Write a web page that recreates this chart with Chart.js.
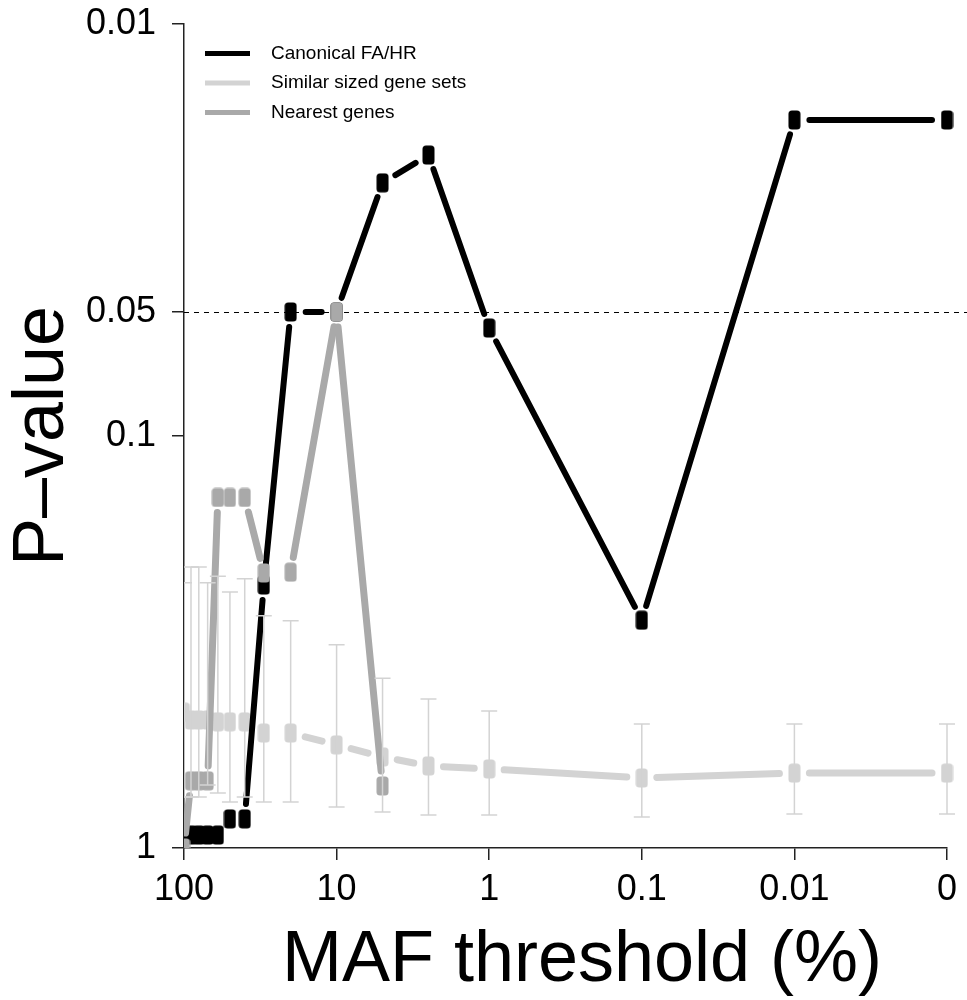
<!DOCTYPE html>
<html>
<head>
<meta charset="utf-8">
<script src="https://cdn.jsdelivr.net/npm/chart.js@4.4.0/dist/chart.umd.min.js"></script>
<style>
  body { margin: 0; background: #fff; }
</style>
</head>
<body>
<canvas id="myChart" width="967" height="1000"></canvas>
<script>
// MAF thresholds (%) - "0" sits one decade after 0.01 on the log axis
const mafLabels = ["100", "90", "80", "70", "60", "50", "40", "30", "20", "10", "5", "2.5", "1", "0.1", "0.01", "0"];
const mafPos = [100, 90, 80, 70, 60, 50, 40, 30, 20, 10, 5, 2.5, 1, 0.1, 0.01, 0.001];

// P-values
const canonical = [0.93, 0.93, 0.93, 0.93, 0.93, 0.85, 0.85, 0.23, 0.05, 0.05, 0.0243, 0.0208, 0.0547, 0.28, 0.0171, 0.0171];
const similar = [0.468, 0.489, 0.489, 0.489, 0.494, 0.494, 0.494, 0.526, 0.526, 0.562, 0.601, 0.632, 0.643, 0.676, 0.658, 0.658];
const similarLow = [0.227, 0.208, 0.208, 0.227, 0.219, 0.239, 0.222, 0.273, 0.281, 0.321, 0.387, 0.435, 0.465, 0.5, 0.5, 0.5];
const similarHigh = [0.752, 0.752, 0.752, 0.703, 0.735, 0.773, 0.752, 0.773, 0.773, 0.795, 0.818, 0.832, 0.832, 0.841, 0.827, 0.827];
const nearest = [1.0, 0.687, 0.687, 0.687, 0.141, 0.141, 0.141, 0.215, 0.214, 0.05, 0.707];

// axis ticks
const xTicks = [100, 10, 1, 0.1, 0.01, 0.001];
const xTickLabels = ["100", "10", "1", "0.1", "0.01", "0"];
const yTicks = [0.01, 0.05, 0.1, 1];
const yTickLabels = ["0.01", "0.05", "0.1", "1"];

const BLACK = "#000000";
const LIGHT = "#d3d3d3";
const DARK = "#a9a9a9";
const FONT = "'Liberation Sans', Arial, sans-serif";

// rounded box used as point marker
function box(color) {
  const c = document.createElement("canvas");
  c.width = 13;
  c.height = 20;
  const g = c.getContext("2d");
  g.fillStyle = color;
  g.beginPath();
  g.roundRect(0.5, 0.5, 12, 19, 3.5);
  g.fill();
  return c;
}

// lines stop short of the points, like R's type = "b"
const GAP = 15;
segLen = (c) => Math.hypot(c.p1.x - c.p0.x, c.p1.y - c.p0.y);
gapped = (color) => ({
  borderColor: (c) => (segLen(c) > 2 * GAP + 2 ? color : "rgba(0,0,0,0)"),
  borderDash: (c) => [Math.max(segLen(c) - 2 * GAP, 0.1), 2 * GAP],
  borderDashOffset: (c) => segLen(c) - GAP
});

function points(values) {
  return values.map((v, i) => ({ x: mafPos[i], y: v }));
}

// marks are cut at the left and bottom axes only
const plotClip = { left: 0, bottom: 0, top: false, right: false };

// error bars, dashed 0.05 line, titles and legend
const extras = {
  id: "extras",
  beforeDatasetsDraw(chart) {
    const { ctx, chartArea } = chart;
    const y = Math.round(chart.scales.y.getPixelForValue(0.05)) + 0.5;
    ctx.save();
    ctx.strokeStyle = "#000";
    ctx.lineWidth = 1;
    ctx.setLineDash([5, 5]);
    ctx.beginPath();
    ctx.moveTo(chartArea.left, y);
    ctx.lineTo(chart.width, y);
    ctx.stroke();
    ctx.restore();
  },
  afterDatasetsDraw(chart) {
    const { ctx, chartArea } = chart;
    const xs = chart.scales.x;
    const ys = chart.scales.y;
    ctx.save();
    ctx.beginPath();
    ctx.rect(chartArea.left, 0, chart.width, chartArea.bottom);
    ctx.clip();
    ctx.strokeStyle = LIGHT;
    ctx.lineWidth = 1.5;
    mafPos.forEach((m, i) => {
      const x = xs.getPixelForValue(m);
      const y0 = ys.getPixelForValue(similarLow[i]);
      const y1 = ys.getPixelForValue(similarHigh[i]);
      ctx.beginPath();
      ctx.moveTo(x, y0);
      ctx.lineTo(x, y1);
      ctx.moveTo(x - 8, y0);
      ctx.lineTo(x + 8, y0);
      ctx.moveTo(x - 8, y1);
      ctx.lineTo(x + 8, y1);
      ctx.stroke();
    });
    ctx.restore();
  },
  afterDraw(chart) {
    const { ctx } = chart;
    ctx.save();
    ctx.fillStyle = "#000";
    ctx.font = "72px " + FONT;
    ctx.textAlign = "center";
    ctx.textBaseline = "alphabetic";
    ctx.fillText("MAF threshold (%)", 582, 981);
    ctx.translate(63, 436);
    ctx.rotate(-Math.PI / 2);
    ctx.fillText("P\u2013value", 0, 0);
    ctx.restore();

    // legend
    ctx.save();
    ctx.font = "19px " + FONT;
    ctx.textBaseline = "middle";
    ctx.lineWidth = 5;
    chart.data.datasets.forEach((ds, i) => {
      const y = 53.5 + i * 29.5;
      ctx.strokeStyle = ds.legendColor;
      ctx.beginPath();
      ctx.moveTo(205, y);
      ctx.lineTo(250, y);
      ctx.stroke();
      ctx.fillStyle = "#000";
      ctx.fillText(ds.label, 271, y);
    });
    ctx.restore();
  }
};

const ctx = document.getElementById("myChart").getContext("2d");
const myChart = new Chart(ctx, {
  type: "line",
  data: {
    datasets: [{
      label: "Canonical FA/HR",
      data: points(canonical),
      legendColor: BLACK,
      borderColor: BLACK,
      borderWidth: 6,
      borderCapStyle: "round",
      pointStyle: box(BLACK),
      segment: gapped(BLACK),
      order: 2,
      clip: plotClip
    }, {
      label: "Similar sized gene sets",
      data: points(similar),
      legendColor: LIGHT,
      borderColor: LIGHT,
      borderWidth: 7,
      borderCapStyle: "round",
      pointStyle: box(LIGHT),
      segment: gapped(LIGHT),
      order: 3,
      clip: plotClip
    }, {
      label: "Nearest genes",
      data: points(nearest),
      legendColor: DARK,
      borderColor: DARK,
      borderWidth: 7,
      borderCapStyle: "round",
      pointStyle: box(DARK),
      segment: gapped(DARK),
      order: 1,
      clip: plotClip
    }]
  },
  options: {
    responsive: false,
    animation: false,
    devicePixelRatio: 1,
    layout: { padding: { top: 24, right: 20, left: 0, bottom: 0 } },
    plugins: {
      legend: { display: false },
      tooltip: { enabled: false }
    },
    scales: {
      x: {
        type: "logarithmic",
        reverse: true,
        min: 0.001,
        max: 100,
        afterBuildTicks: (scale) => { scale.ticks = xTicks.map((v) => ({ value: v })); },
        afterFit: (scale) => {
          scale.height = 152;
          scale.paddingLeft = 0;
          scale.paddingRight = 0;
        },
        ticks: {
          callback: (v) => xTickLabels[xTicks.indexOf(v)],
          font: { size: 36, family: FONT },
          color: "#000",
          padding: 8,
          maxRotation: 0,
          autoSkip: false
        },
        grid: { drawOnChartArea: false, tickLength: 12, color: "#222", lineWidth: 1.5 },
        border: { color: "#222", width: 1.5 }
      },
      y: {
        type: "logarithmic",
        reverse: true,
        min: 0.01,
        max: 1,
        afterBuildTicks: (scale) => { scale.ticks = yTicks.map((v) => ({ value: v })); },
        afterFit: (scale) => {
          scale.width = 184;
          scale.paddingTop = 0;
          scale.paddingBottom = 0;
        },
        ticks: {
          callback: (v) => yTickLabels[yTicks.indexOf(v)],
          font: { size: 36, family: FONT },
          color: "#000",
          padding: 16,
          autoSkip: false
        },
        grid: { drawOnChartArea: false, tickLength: 12, color: "#222", lineWidth: 1.5 },
        border: { color: "#222", width: 1.5 }
      }
    }
  },
  plugins: [extras]
});
</script>
</body>
</html>
